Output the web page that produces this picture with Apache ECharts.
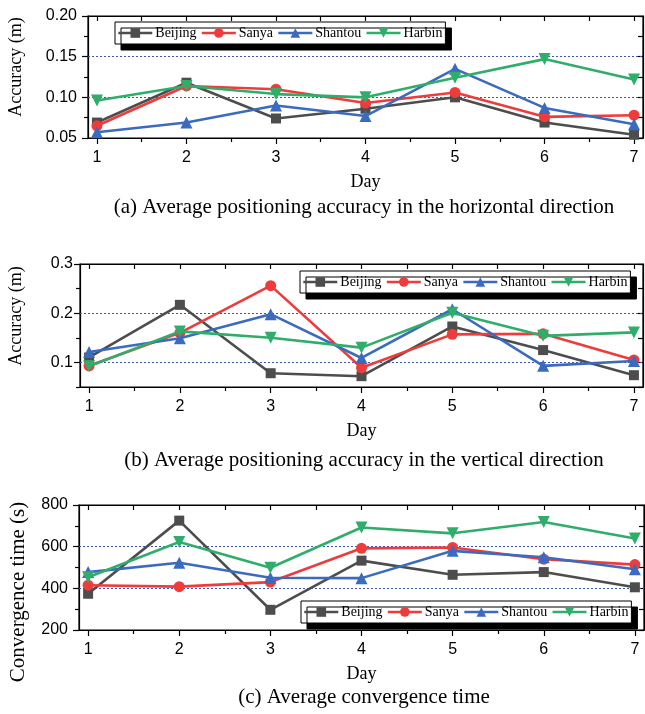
<!DOCTYPE html>
<html>
<head>
<meta charset="utf-8">
<style>
  html, body { margin: 0; padding: 0; background: #fff; }
  #chart { width: 645px; height: 714px; }
</style>
<script src="https://cdn.jsdelivr.net/npm/echarts@6/dist/echarts.min.js"></script>
</head>
<body>
<div id="chart"></div>
<script>
// Days of the campaign and the four test sites
const days = [1, 2, 3, 4, 5, 6, 7];
const cities = ['Beijing', 'Sanya', 'Shantou', 'Harbin'];

// (a) horizontal accuracy (m)
const horizBeijing = [0.069, 0.118, 0.074, 0.086, 0.100, 0.069, 0.054];
const horizSanya   = [0.065, 0.114, 0.110, 0.093, 0.106, 0.076, 0.078];
const horizShantou = [0.057, 0.069, 0.090, 0.077, 0.135, 0.087, 0.067];
const horizHarbin  = [0.096, 0.114, 0.104, 0.100, 0.124, 0.147, 0.122];

// (b) vertical accuracy (m)
const vertBeijing = [0.110, 0.217, 0.078, 0.072, 0.173, 0.125, 0.074];
const vertSanya   = [0.093, 0.160, 0.256, 0.089, 0.157, 0.158, 0.105];
const vertShantou = [0.121, 0.149, 0.198, 0.109, 0.208, 0.093, 0.103];
const vertHarbin  = [0.092, 0.163, 0.150, 0.130, 0.201, 0.154, 0.161];

// (c) convergence time (s)
const convBeijing = [374, 725, 297, 533, 465, 478, 405];
const convSanya   = [415, 408, 430, 592, 596, 540, 514];
const convShantou = [478, 523, 451, 449, 580, 549, 492];
const convHarbin  = [453, 622, 499, 692, 664, 718, 639];

// axis tick values
const dayTicks = [1, 2, 3, 4, 5, 6, 7];
const dayMinor = [1.5, 2.5, 3.5, 4.5, 5.5, 6.5];
const horizTicks = [0.05, 0.10, 0.15, 0.20];
const horizMinor = [0.075, 0.125, 0.175];
const vertTicks = [0.1, 0.2, 0.3];
const vertMinor = [0.05, 0.15, 0.25];
const convTicks = [200, 400, 600, 800];
const convMinor = [300, 500, 700];

const captions = [
  '(a) Average positioning accuracy in the horizontal direction',
  '(b) Average positioning accuracy in the vertical direction',
  '(c) Average convergence time'
];

const COLORS = ['#4d4d4d', '#ee3b3b', '#3a6bbf', '#2fae6b'];
const SYMBOLS = ['rect', 'circle', 'triangle', 'triangle'];
const SYMBOL_SIZE = [10, 11, 12, 12];
const SYMBOL_ROT = [0, 0, 0, 180];
const SERIF = '"Liberation Serif", "Times New Roman", serif';
const SANS = '"Liberation Sans", Arial, sans-serif';

const panels = [
  {
    grid: { left: 88, top: 16, width: 555, height: 122 },
    yMin: 0.05, yMax: 0.20, yTicks: horizTicks, yMinor: horizMinor,
    yFmt: v => v.toFixed(2), yLabelMargin: 11,
    yName: 'Accuracy (m)', yNameX: 16, yNameY: 67, yNameSize: 18,
    gridLines: [0.10, 0.15],
    values: [horizBeijing, horizSanya, horizShantou, horizHarbin],
    legend: { left: 115, top: 22 },
    captionY: 207
  },
  {
    grid: { left: 80, top: 264, width: 563, height: 123 },
    yMin: 0.05, yMax: 0.30, yTicks: vertTicks, yMinor: vertMinor,
    yFmt: v => v.toFixed(1), yLabelMargin: 7,
    yName: 'Accuracy (m)', yNameX: 16, yNameY: 316, yNameSize: 18,
    gridLines: [0.1, 0.2],
    values: [vertBeijing, vertSanya, vertShantou, vertHarbin],
    legend: { left: 300, top: 271 },
    captionY: 460
  },
  {
    grid: { left: 79, top: 505, width: 565, height: 125 },
    yMin: 200, yMax: 800, yTicks: convTicks, yMinor: convMinor,
    yFmt: v => String(Math.round(v)), yLabelMargin: 11,
    yName: 'Convergence time (s)', yNameX: 18, yNameY: 592, yNameSize: 21,
    gridLines: [400, 600],
    values: [convBeijing, convSanya, convShantou, convHarbin],
    legend: { left: 301, top: 601 },
    captionY: 697
  }
];

const grids = [], xAxes = [], yAxes = [], series = [], legends = [], graphics = [];

panels.forEach((p, pi) => {
  grids.push(Object.assign({ show: true, borderColor: '#000', borderWidth: 1.2, backgroundColor: 'transparent' }, p.grid));

  const xBase = { type: 'value', gridIndex: pi, min: 0.9, max: 7.1, splitLine: { show: false } };
  // bottom axis with labelled day ticks
  xAxes.push(Object.assign({}, xBase, {
    position: 'bottom',
    name: 'Day', nameLocation: 'middle', nameGap: 35,
    nameTextStyle: { fontFamily: SERIF, fontSize: 18, color: '#000' },
    axisLine: { show: true, onZero: false, lineStyle: { color: '#000', width: 1.2 } },
    axisTick: { show: true, customValues: dayTicks, length: 6, lineStyle: { color: '#000', width: 1.2 } },
    axisLabel: { show: true, customValues: dayTicks, margin: 12, fontFamily: SANS, fontSize: 16, color: '#000' }
  }));
  // bottom minor ticks
  xAxes.push(Object.assign({}, xBase, {
    position: 'bottom',
    axisLine: { show: false, onZero: false },
    axisTick: { show: true, customValues: dayMinor, length: 4, lineStyle: { color: '#000', width: 1.2 } },
    axisLabel: { show: false }
  }));
  // top mirror ticks
  xAxes.push(Object.assign({}, xBase, {
    position: 'top',
    axisLine: { show: true, onZero: false, lineStyle: { color: '#000', width: 1.2 } },
    axisTick: { show: true, inside: true, customValues: dayTicks.concat(dayMinor), length: 5, lineStyle: { color: '#000', width: 1.2 } },
    axisLabel: { show: false }
  }));

  const yBase = { type: 'value', gridIndex: pi, min: p.yMin, max: p.yMax, splitLine: { show: false } };
  yAxes.push(Object.assign({}, yBase, {
    position: 'left',
    axisLine: { show: true, onZero: false, lineStyle: { color: '#000', width: 1.2 } },
    axisTick: { show: true, customValues: p.yTicks, length: 6, lineStyle: { color: '#000', width: 1.2 } },
    axisLabel: { show: true, customValues: p.yTicks, formatter: p.yFmt, margin: p.yLabelMargin, fontFamily: SANS, fontSize: 16, color: '#000' }
  }));
  yAxes.push(Object.assign({}, yBase, {
    position: 'left',
    axisLine: { show: false, onZero: false },
    axisTick: { show: true, customValues: p.yMinor, length: 4, lineStyle: { color: '#000', width: 1.2 } },
    axisLabel: { show: false }
  }));
  yAxes.push(Object.assign({}, yBase, {
    position: 'right',
    axisLine: { show: true, onZero: false, lineStyle: { color: '#000', width: 1.2 } },
    axisTick: { show: true, inside: true, customValues: p.yTicks.concat(p.yMinor), length: 5, lineStyle: { color: '#000', width: 1.2 } },
    axisLabel: { show: false }
  }));

  p.values.forEach((vals, ci) => {
    const s = {
      type: 'line',
      name: cities[ci],
      xAxisIndex: pi * 3,
      yAxisIndex: pi * 3,
      data: days.map((d, k) => [d, vals[k]]),
      symbol: SYMBOLS[ci],
      symbolSize: SYMBOL_SIZE[ci],
      symbolRotate: SYMBOL_ROT[ci],
      showAllSymbol: true,
      lineStyle: { color: COLORS[ci], width: 2.6 },
      itemStyle: { color: COLORS[ci], borderWidth: 0 },
      emphasis: { disabled: true },
      z: 3 + ci
    };
    if (ci === 0) {
      // dotted reference lines at the interior labelled values
      s.markLine = {
        silent: true,
        symbol: 'none',
        label: { show: false },
        lineStyle: { color: '#3b55b5', type: [2, 2], width: 1 },
        data: p.gridLines.map(v => ({ yAxis: v })),
        z: 1
      };
    }
    series.push(s);
  });

  legends.push({
    left: p.legend.left, top: p.legend.top,
    orient: 'horizontal',
    data: cities,
    itemWidth: 34, itemHeight: 12, itemGap: 4,
    padding: [4, 3, 4, 2],
    backgroundColor: '#fff',
    borderColor: '#000', borderWidth: 1,
    shadowColor: '#000', shadowBlur: 0, shadowOffsetX: 6, shadowOffsetY: 6,
    lineStyle: { width: 2.6 },
    textStyle: { fontFamily: SERIF, fontSize: 14, color: '#000', padding: [0, 0, 0, -2] },
    selectedMode: false
  });

  // vertical axis title
  graphics.push({
    type: 'text',
    x: p.yNameX, y: p.yNameY,
    rotation: Math.PI / 2,
    style: {
      text: p.yName,
      fontFamily: SERIF, fontSize: p.yNameSize, fill: '#000',
      textAlign: 'center', textVerticalAlign: 'middle'
    }
  });

  graphics.push({
    type: 'text',
    x: 364, y: p.captionY,
    style: {
      text: captions[pi],
      fontFamily: SERIF, fontSize: 21, fill: '#000',
      textAlign: 'center', textVerticalAlign: 'middle'
    }
  });
});

const chart = echarts.init(document.getElementById('chart'), null, { renderer: 'canvas' });
chart.setOption({
  animation: false,
  backgroundColor: '#fff',
  grid: grids,
  xAxis: xAxes,
  yAxis: yAxes,
  legend: legends,
  series: series,
  graphic: graphics
});
</script>
</body>
</html>
